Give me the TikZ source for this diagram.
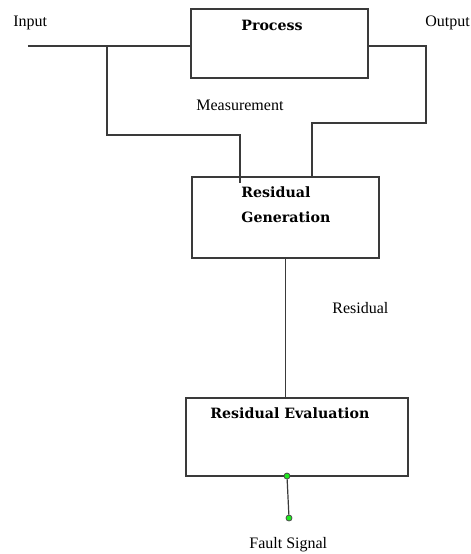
\documentclass[tikz,border=0pt]{standalone}
\usepackage{fontspec}
\setmainfont{Liberation Serif}
\newfontfamily\titlefont{DejaVu Serif}
\usetikzlibrary{positioning}
\definecolor{lineGray}{HTML}{3A3A3A}
\definecolor{dotGreen}{HTML}{1EEB1E}

\begin{document}
\begin{tikzpicture}[x=0.5pt, y=-0.5pt,
      block/.style={draw=lineGray, line width=0.6pt, inner sep=0pt},
      title/.style={font=\titlefont\bfseries\fontsize{7.1}{12.5}\selectfont, align=left, inner sep=0pt},
      lbl/.style={font=\fontsize{8}{10}\selectfont, inner sep=0pt},
      wire/.style={lineGray, line width=0.6pt},
      dot/.style={circle, draw=black!70, fill=dotGreen, minimum size=3pt, inner sep=0pt}]
    \useasboundingbox (0,0) rectangle (471,554);
    % blocks
    \node[block, minimum width=88.5pt, minimum height=34.5pt] (process) at (279.5,43.5) {};
    \node[block, minimum width=93.5pt, minimum height=40.5pt] (resgen) at (285.5,217.5) {};
    \node[block, minimum width=111pt, minimum height=39pt] (reseval) at (297,437) {};
    \node[title, anchor=base] (processT) at (272,30) {Process};
    \node[title, anchor=north west] (resgenT) at (241,186) {Residual\\Generation};
    \node[title, anchor=base west] (resevalT) at (210,418) {Residual Evaluation};
    % labels
    \node[lbl, anchor=base west] (inputL) at (13,26) {Input};
    \node[lbl, anchor=base west] (outputL) at (425,26) {Output};
    \node[lbl, anchor=base west] (measL) at (196,110) {Measurement};
    \node[lbl, anchor=base west] (residualL) at (332,313) {Residual};
    \node[lbl, anchor=base west] (faultL) at (249,548) {Fault Signal};
    % wires
    \coordinate (in) at (28,46);
    \coordinate (tapL) at (107,46);
    \coordinate (turnL) at (240,135);
    \coordinate (genL) at (240,183);
    \coordinate (outdrop) at (426,123);
    \coordinate (genR) at (312,177);
    \draw[wire] (in) -- (in -| process.west);
    \draw[wire] (process.east |- in) -| (outdrop) -| (genR);
    \draw[wire] (tapL) |- (turnL) -- (genL);
    \draw[wire] (resgen.south) -- (resgen.south |- reseval.north);
    \node[dot] (faultA) at (287,476) {};
    \node[dot] (faultB) at (289,518) {};
    \draw[wire] (faultA) -- (faultB);
  \end{tikzpicture}
\end{document}
